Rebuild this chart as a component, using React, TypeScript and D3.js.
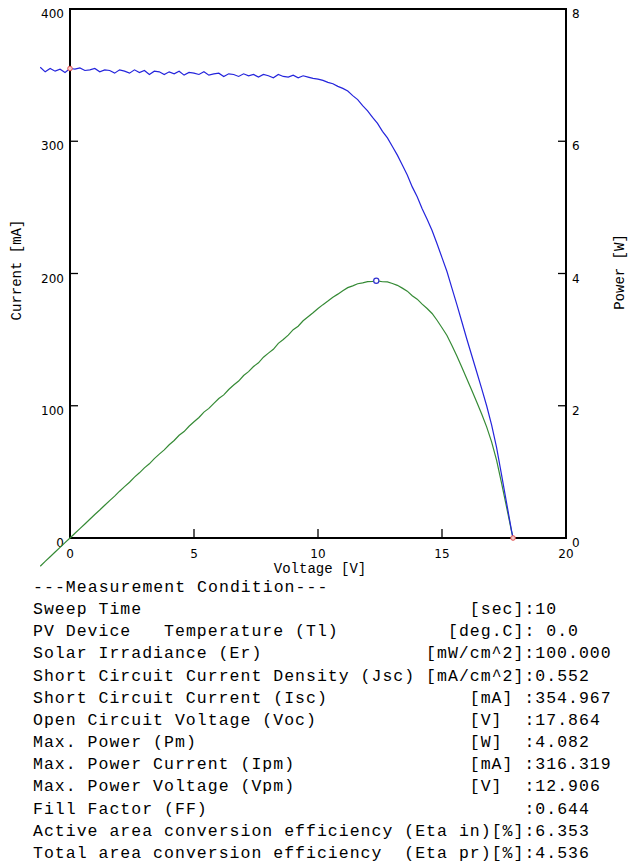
import React from "react";
import * as d3 from "d3";

// ---- data ----
const voltage = [
  -1.2, -1.0, -0.8, -0.6, -0.4, -0.2, 0.0, 0.2, 0.4, 0.6, 0.8, 1.0, 1.2, 1.4, 1.6, 1.8,
  2.0, 2.2, 2.4, 2.6, 2.8, 3.0, 3.2, 3.4, 3.6, 3.8, 4.0, 4.2, 4.4, 4.6, 4.8,
  5.0, 5.2, 5.4, 5.6, 5.8, 6.0, 6.2, 6.4, 6.6, 6.8, 7.0, 7.2, 7.4, 7.6, 7.8,
  8.0, 8.2, 8.4, 8.6, 8.8, 9.0, 9.2, 9.4, 9.6, 9.8, 10.0, 10.2, 10.4, 10.6, 10.8,
  11.0, 11.2, 11.4, 11.6, 11.8, 12.0, 12.2, 12.4, 12.6, 12.8, 13.0, 13.2, 13.4, 13.6, 13.8,
  14.0, 14.2, 14.4, 14.6, 14.8, 15.0, 15.2, 15.4, 15.6, 15.8, 16.0, 16.2, 16.4, 16.6, 16.8,
  17.0, 17.2, 17.4, 17.6, 17.8, 17.864,
];

const currentMA = [
  356, 352.5, 355, 353, 354.5, 352, 355, 354.5, 355.5, 353.5, 354, 355, 352.5, 354, 353.5, 351.5,
  354, 353, 351.5, 354, 352, 353.5, 350.5, 353, 352.5, 350.5, 352.5, 351, 353, 350, 352,
  351.5, 350.5, 352.5, 350, 351, 351.5, 349, 351, 350.5, 349, 351, 349.5, 350.5, 348.5, 350.5,
  349.5, 348, 350.5, 349, 348.5, 350, 348, 349.5, 348.5, 347.5, 347, 346, 344.5, 343.5, 341.5,
  340, 338, 334.5, 331.5, 327, 323, 318, 313.5, 307.5, 302.5, 296, 289.5, 282, 274.5, 265.5,
  258, 249, 241, 232.5, 222.5, 212, 201.5, 189, 176.5, 163.5, 150.5, 138, 125.5, 113, 100,
  85.5, 68.5, 48, 27, 6, 0,
];

const powerW = [
  -0.427, -0.353, -0.284, -0.212, -0.142, -0.070, 0, 0.071, 0.142, 0.212, 0.283, 0.355, 0.423, 0.496, 0.566, 0.633,
  0.708, 0.777, 0.844, 0.920, 0.986, 1.061, 1.122, 1.200, 1.269, 1.332, 1.410, 1.474, 1.553, 1.610, 1.690,
  1.758, 1.823, 1.904, 1.960, 2.036, 2.109, 2.164, 2.246, 2.313, 2.373, 2.457, 2.516, 2.594, 2.649, 2.734,
  2.796, 2.854, 2.944, 3.001, 3.067, 3.150, 3.202, 3.285, 3.346, 3.406, 3.470, 3.529, 3.583, 3.641, 3.688,
  3.740, 3.786, 3.813, 3.845, 3.859, 3.876, 3.880, 3.887, 3.875, 3.872, 3.848, 3.821, 3.779, 3.733, 3.664,
  3.612, 3.536, 3.470, 3.395, 3.293, 3.180, 3.063, 2.911, 2.753, 2.583, 2.408, 2.236, 2.058, 1.876, 1.680,
  1.454, 1.178, 0.835, 0.475, 0.107, 0,
];

const iscPoint = [0, 355];
const vocPoint = [17.864, 0];
const pmPoint = [12.35, 3.89];

const xTicks = [0, 5, 10, 15, 20];
const currentTicks = [0, 100, 200, 300, 400];
const powerTicks = [0, 2, 4, 6, 8];

const conditionLines = [
  "---Measurement Condition---",
  "Sweep Time                              [sec]:10",
  "PV Device   Temperature (Tl)          [deg.C]: 0.0",
  "Solar Irradiance (Er)               [mW/cm^2]:100.000",
  "Short Circuit Current Density (Jsc) [mA/cm^2]:0.552",
  "Short Circuit Current (Isc)             [mA] :354.967",
  "Open Circuit Voltage (Voc)              [V]  :17.864",
  "Max. Power (Pm)                         [W]  :4.082",
  "Max. Power Current (Ipm)                [mA] :316.319",
  "Max. Power Voltage (Vpm)                [V]  :12.906",
  "Fill Factor (FF)                             :0.644",
  "Active area conversion efficiency (Eta in)[%]:6.353",
  "Total area conversion efficiency  (Eta pr)[%]:4.536",
];

export default function App() {
  const W = 641;
  const H = 864;
  const left = 70, right = 566, top = 9, bottom = 538;

  const x = d3.scaleLinear().domain([0, 20]).range([left, right]);
  const yI = d3.scaleLinear().domain([0, 400]).range([bottom, top]);
  const yP = d3.scaleLinear().domain([0, 8]).range([bottom, top]);

  const idx = d3.range(voltage.length);
  const currentPath = d3.line<number>().x((i) => x(voltage[i])).y((i) => yI(currentMA[i]))(idx) || "";
  const powerPath = d3.line<number>().x((i) => x(voltage[i])).y((i) => yP(powerW[i]))(idx) || "";

  const tickFont = "'DejaVu Sans', Verdana, sans-serif";
  const mono = "'Liberation Mono', 'DejaVu Sans Mono', monospace";
  const cw = 10.9;
  const textX = 33;

  return (
    <div>
      <style>{`body{margin:0;background:#fff}`}</style>
      <svg width={W} height={H} viewBox={`0 0 ${W} ${H}`} style={{ display: "block", background: "#fff" }}>
        {/* frame */}
        <rect x={left} y={top} width={right - left} height={bottom - top} fill="none" stroke="#000" strokeWidth={2} />

        {/* ticks (inward) */}
        {xTicks.filter((t) => t > 0 && t < 20).map((t) => (
          <line key={"xt" + t} x1={x(t)} x2={x(t)} y1={bottom} y2={bottom - 9} stroke="#000" strokeWidth={1.3} />
        ))}
        {currentTicks.filter((t) => t > 0 && t < 400).map((t) => (
          <line key={"yt" + t} x1={left} x2={left + 8} y1={yI(t)} y2={yI(t)} stroke="#000" strokeWidth={1.3} />
        ))}
        {powerTicks.filter((t) => t > 0 && t < 8).map((t) => (
          <line key={"pt" + t} x1={right} x2={right - 8} y1={yP(t)} y2={yP(t)} stroke="#000" strokeWidth={1.3} />
        ))}

        {/* tick labels */}
        {xTicks.map((t) => (
          <text key={"xl" + t} x={x(t)} y={bottom + 20} fontFamily={tickFont} fontSize={12} textAnchor="middle" fill="#000">
            {t}
          </text>
        ))}
        {currentTicks.map((t) => (
          <text key={"yl" + t} x={left - 6} y={yI(t) + 9} fontFamily={tickFont} fontSize={12} textAnchor="end" fill="#000">
            {t}
          </text>
        ))}
        {powerTicks.map((t) => (
          <text key={"pl" + t} x={right + 6} y={yP(t) + 9} fontFamily={tickFont} fontSize={12} textAnchor="start" fill="#000">
            {t}
          </text>
        ))}

        {/* axis titles */}
        <text x={(left + right) / 2 + 2} y={bottom + 35} fontFamily={mono} fontSize={14} textAnchor="middle" fill="#000">
          Voltage [V]
        </text>
        <text transform={`translate(21, 270) rotate(-90)`} fontFamily={mono} fontSize={14} textAnchor="middle" fill="#000">
          Current [mA]
        </text>
        <text transform={`translate(624, 272) rotate(-90)`} fontFamily={mono} fontSize={14} textAnchor="middle" fill="#000">
          Power [W]
        </text>

        {/* curves */}
        <path d={powerPath} fill="none" stroke="#358a35" strokeWidth={1.2} />
        <path d={currentPath} fill="none" stroke="#2424dc" strokeWidth={1.2} />

        {/* markers */}
        <circle cx={x(iscPoint[0])} cy={yI(iscPoint[1])} r={2.3} fill="#f6c8c8" stroke="#e05050" strokeWidth={1} />
        <circle cx={x(vocPoint[0])} cy={yI(vocPoint[1])} r={2.3} fill="#f6c8c8" stroke="#e05050" strokeWidth={1} />
        <circle cx={x(pmPoint[0])} cy={yP(pmPoint[1])} r={2.6} fill="#ffffff" stroke="#3030d0" strokeWidth={1.2} />

        {/* measurement condition text */}
        {conditionLines.map((s, i) => (
          <text
            key={"c" + i}
            x={textX}
            y={592 + i * 22.15}
            fontFamily={mono}
            fontSize={16.5}
            fill="#000"
            textLength={s.length * cw}
            lengthAdjust="spacing"
            style={{ whiteSpace: "pre" }}
          >
            {s}
          </text>
        ))}
      </svg>
    </div>
  );
}
